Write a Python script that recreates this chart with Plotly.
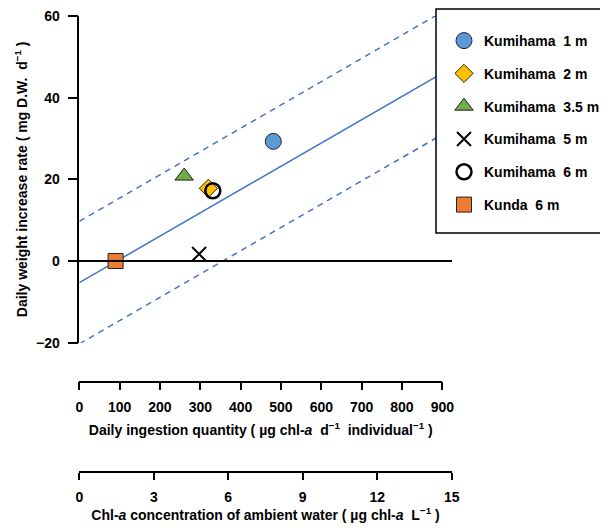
import plotly.graph_objects as go

# ---- data ----
series_names = ["Kumihama\u00a0\u00a01 m", "Kumihama\u00a0\u00a02 m", "Kumihama\u00a0\u00a03.5 m",
                "Kumihama\u00a0\u00a05 m", "Kumihama\u00a0\u00a06 m", "Kunda\u00a0\u00a06 m"]
ingestion = [481, 320, 260, 297, 331, 90]          # µg chl-a d-1 individual-1
weight_rate = [29.3, 17.8, 20.8, 1.7, 17.2, 0.0]   # mg D.W. d-1

# regression line and prediction band
fit_intercept = -5.3
fit_slope = 0.0570
band_half = 15.0

ingestion_ticks = [0, 100, 200, 300, 400, 500, 600, 700, 800, 900]
chl_ticks = [0, 3, 6, 9, 12, 15]
y_ticks = [-20, 0, 20, 40, 60]

# ---- styling ----
symbols = ["circle", "diamond", "triangle-up", "x-thin-open", "circle-open", "square"]
colors = ["#5B9BD5", "#FFC000", "#70AD47", "black", "black", "#ED7D31"]
sizes = [16, 14, 16, 14, 15, 15]
line_blue = "#4472C4"

# page has an 8px body margin; figure fills the rest of the 608x528 window
PAGE_OFF = 8
W, H = 600, 520


def px_x(px):
    return (px - PAGE_OFF) / W


def px_y(py):
    return 1 - (py - PAGE_OFF) / H


FONT = dict(family="Liberation Sans, Arial, sans-serif", size=14, color="black", weight="bold")
TICKFONT = dict(family="Liberation Sans, Arial, sans-serif", size=14, color="black", weight="bold")

x_main_range = [0, 921.6]
dom_main = [px_x(79.3), px_x(451.0)]
dom_ing = [px_x(79.3), px_x(442.3)]
dom_chl = [px_x(79.3), px_x(451.7)]
dom_y = [px_y(342.7), px_y(16)]

fig = go.Figure()

fx = x_main_range
fit_y = [fit_intercept + fit_slope * v for v in fx]
fig.add_trace(go.Scatter(x=fx, y=fit_y, mode="lines", line=dict(color=line_blue, width=1.5),
                         showlegend=False, hoverinfo="skip"))
for sgn in (1, -1):
    fig.add_trace(go.Scatter(x=fx, y=[v + sgn * band_half for v in fit_y], mode="lines",
                             line=dict(color=line_blue, width=1.5, dash="6px,5px"),
                             showlegend=False, hoverinfo="skip"))

for i, name in enumerate(series_names):
    sym = symbols[i]
    if sym == "x-thin-open":
        marker = dict(symbol=sym, size=sizes[i], color="black", line=dict(color="black", width=2))
    elif sym == "circle-open":
        marker = dict(symbol=sym, size=sizes[i], color="black", line=dict(color="black", width=2.5))
    else:
        marker = dict(symbol=sym, size=sizes[i], color=colors[i], line=dict(color="#222222", width=1))
    fig.add_trace(go.Scatter(x=[ingestion[i]], y=[weight_rate[i]], mode="markers", name=name,
                             marker=marker, legendgroup=f"g{i}", cliponaxis=False))

# placeholder traces so the extra axes are drawn
fig.add_trace(go.Scatter(x=[None], y=[None], xaxis="x2", yaxis="y", showlegend=False, hoverinfo="skip"))
fig.add_trace(go.Scatter(x=[None], y=[None], xaxis="x3", yaxis="y", showlegend=False, hoverinfo="skip"))

# legend frame (white box with black border, covers the lines beneath it)
fig.add_shape(type="rect", xref="paper", yref="paper",
              x0=px_x(436), x1=px_x(606.5), y0=px_y(233), y1=px_y(8.9),
              fillcolor="white", line=dict(color="black", width=1.5), layer="above")

fig.update_layout(
    width=W, height=H,
    margin=dict(l=0, r=0, t=0, b=0, autoexpand=False),
    paper_bgcolor="white", plot_bgcolor="rgba(0,0,0,0)",
    font=FONT,
    showlegend=True,
    legend=dict(x=px_x(444), y=px_y(25), xanchor="left", yanchor="top",
                bgcolor="rgba(0,0,0,0)", borderwidth=0,
                font=FONT, tracegroupgap=11.6, itemsizing="trace"),
    xaxis=dict(domain=dom_main, range=x_main_range, visible=False, anchor="y", automargin=False),
    yaxis=dict(domain=dom_y, range=[-20, 60], tickvals=y_ticks, showgrid=False,
               showline=True, linecolor="black", linewidth=1.5,
               ticks="outside", ticklen=10, tickwidth=1.5, tickcolor="black",
               zeroline=True, zerolinecolor="black", zerolinewidth=1.5,
               tickfont=TICKFONT, ticklabelstandoff=5, ticklabeloverflow="allow",
               anchor="x", automargin=False,
               title=dict(text="Daily weight increase rate ( mg D.W.  d<sup>−1</sup> )",
                          font=FONT, standoff=5)),
    xaxis2=dict(domain=dom_ing, range=[0, 900], tickvals=ingestion_ticks, anchor="free",
                position=px_y(381.7), showgrid=False, zeroline=False, automargin=False,
                showline=True, linecolor="black", linewidth=1.5,
                ticks="outside", ticklen=8, tickwidth=1.5, tickcolor="black", tickfont=TICKFONT,
                ticklabelstandoff=5, ticklabeloverflow="allow",
                title=dict(text="Daily ingestion quantity ( µg chl-<i>a</i>  d<sup>−1</sup>  individual<sup>−1</sup> )",
                           font=FONT, standoff=10)),
    xaxis3=dict(domain=dom_chl, range=[0, 15], tickvals=chl_ticks, anchor="free",
                position=px_y(472.3), showgrid=False, zeroline=False, automargin=False,
                showline=True, linecolor="black", linewidth=1.5,
                ticks="outside", ticklen=7, tickwidth=1.5, tickcolor="black", tickfont=TICKFONT,
                ticklabelstandoff=5, ticklabeloverflow="allow",
                title=dict(text="Chl-<i>a</i> concentration of ambient water ( µg chl-<i>a</i>  L<sup>−1</sup> )",
                           font=FONT, standoff=4)),
)

fig.write_html("out.html")
